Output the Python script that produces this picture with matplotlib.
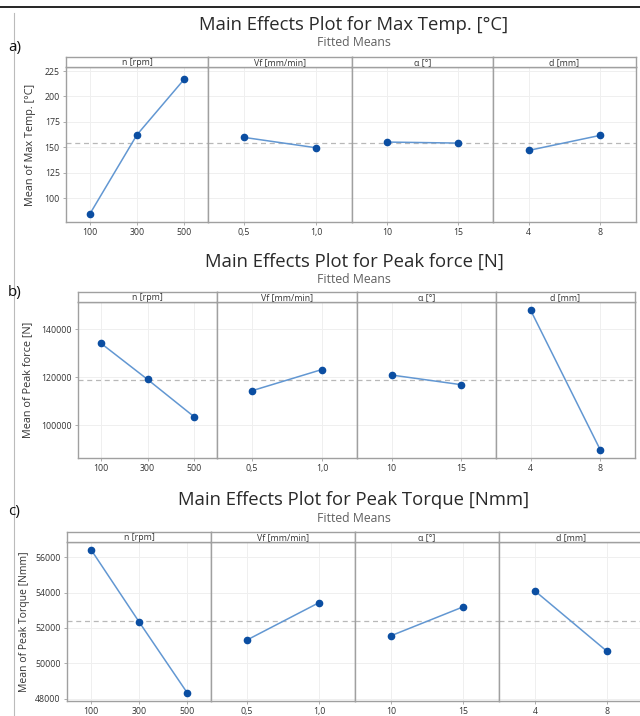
import numpy as np
import matplotlib
matplotlib.use("Agg")
import matplotlib.pyplot as plt
from matplotlib.lines import Line2D

plt.rcParams["font.family"] = ["Open Sans", "DejaVu Sans"]

# factor names and levels
factors = ["n [rpm]", "Vf [mm/min]", "α [°]", "d [mm]"]
levels = [["100", "300", "500"], ["0,5", "1,0"], ["10", "15"], ["4", "8"]]

# fitted means
temp_n = [84, 162.3, 217.1]
temp_vf = [159.7, 149.5]
temp_alpha = [155.1, 154.1]
temp_d = [146.9, 161.7]

force_n = [134000, 119100, 103700]
force_vf = [114400, 123200]
force_alpha = [120900, 116900]
force_d = [147700, 89900]

torque_n = [56430, 52350, 48350]
torque_vf = [51320, 53430]
torque_alpha = [51560, 53190]
torque_d = [54090, 50680]

line_col = "#6297D2"
dot_col = "#0B4EA2"
frame_col = "#A0A0A0"
grid_col = "#EFEFEF"

W, H = 640, 716
fig = plt.figure(figsize=(W / 100, H / 100), dpi=100)


def box(l, t, r, b):
    return [l / W, 1 - b / H, (r - l) / W, (b - t) / H]


def panel(title, letter, ylabel, series, ylim, yticks, ytick_labels,
          title_y, left, right, strip_top, strip_bot, bottom, dividers, letter_y,
          ylab_size=7.8, ylab_pad=6):
    fig.text(354 / W, 1 - title_y / H, title, ha="center", va="center",
             fontsize=13.3, color="#2A2A2A")
    fig.text(354 / W, 1 - (title_y + 18) / H, "Fitted Means", ha="center",
             va="center", fontsize=8.8, color="#606060")
    fig.text(8 / W, 1 - letter_y / H, letter, ha="left", va="center",
             fontsize=11, color="#111111")
    edges = [left] + dividers + [right]
    grand = np.mean(series[0])
    for i in range(4):
        ax = fig.add_axes(box(edges[i], strip_bot, edges[i + 1], bottom))
        vals = series[i]
        x = np.arange(1, len(vals) + 1)
        ax.axhline(grand, color="#B8B8B8", ls=(0, (4, 3)), lw=0.9, zorder=1)
        ax.plot(x, vals, color=line_col, lw=1.1, zorder=2)
        ax.plot(x, vals, "o", color=dot_col, ms=4.5, zorder=3)
        ax.set_xlim(0.5, len(vals) + 0.5)
        ax.set_ylim(*ylim)
        ax.set_xticks(x)
        ax.set_xticklabels(levels[i], fontsize=6.3, color="#333333")
        ax.set_yticks(yticks)
        ax.grid(True, color=grid_col, lw=0.7)
        ax.set_axisbelow(True)
        for s in ax.spines.values():
            s.set_color(frame_col)
            s.set_linewidth(1.0)
        ax.tick_params(axis="both", length=2.5, width=0.6, color=frame_col, pad=2)
        if i == 0:
            ax.set_yticklabels(ytick_labels, fontsize=6.3, color="#333333")
            ax.set_ylabel(ylabel, fontsize=ylab_size, color="#333333",
                          labelpad=ylab_pad)
        else:
            ax.tick_params(axis="y", left=False, labelleft=False)
        sx = fig.add_axes(box(edges[i], strip_top, edges[i + 1], strip_bot))
        sx.set_xticks([])
        sx.set_yticks([])
        for s in sx.spines.values():
            s.set_color(frame_col)
            s.set_linewidth(1.0)
        sx.text(0.5, 0.45, factors[i], ha="center", va="center",
                fontsize=6.3, color="#333333", transform=sx.transAxes)


panel("Main Effects Plot for Max Temp. [°C]", "a)", "Mean of Max Temp. [°C]",
      [temp_n, temp_vf, temp_alpha, temp_d], (76.4, 229),
      [100, 125, 150, 175, 200, 225], ["100", "125", "150", "175", "200", "225"],
      25, 66, 636, 57, 67, 222, [208, 352, 493], 48)

panel("Main Effects Plot for Peak force [N]", "b)", "Mean of Peak force [N]",
      [force_n, force_vf, force_alpha, force_d], (86500, 151200),
      [100000, 120000, 140000], ["100000", "120000", "140000"],
      262, 78, 635, 292, 302, 458, [217, 357, 496], 292)

panel("Main Effects Plot for Peak Torque [Nmm]", "c)", "Mean of Peak Torque [Nmm]",
      [torque_n, torque_vf, torque_alpha, torque_d], (47870, 56860),
      [48000, 50000, 52000, 54000, 56000],
      ["48000", "50000", "52000", "54000", "56000"],
      500, 67, 643, 532, 542, 701, [211, 355, 499], 512,
      ylab_size=7.5, ylab_pad=4)

# page border lines from the source document
fig.add_artist(Line2D([0, 1], [1 - 7 / H, 1 - 7 / H], color="black", lw=1.2))
fig.add_artist(Line2D([14 / W, 14 / W], [0, 1 - 13 / H], color="#BBBBBB", lw=0.8))

fig.savefig("out.png", dpi=100)
